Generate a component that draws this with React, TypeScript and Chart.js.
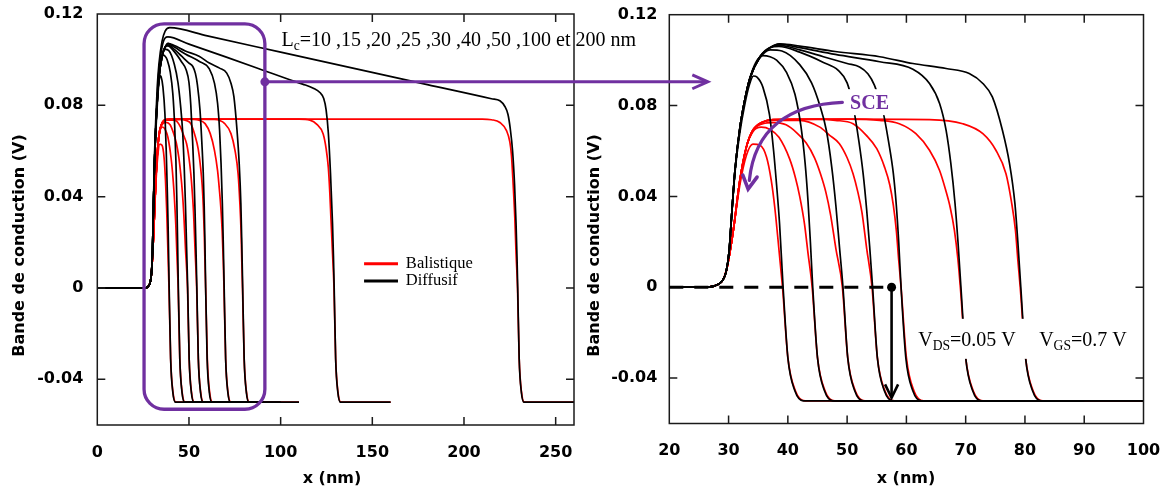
import React, { useEffect, useRef } from 'react';
import { Chart, registerables } from 'chart.js';

Chart.register(...registerables);

const W = 1167;
const H = 495;

// ---------- axes ----------
const leftXTicks = [0, 50, 100, 150, 200, 250];
const leftXLabels = ['0', '50', '100', '150', '200', '250'];
const rightXTicks = [20, 30, 40, 50, 60, 70, 80, 90, 100];
const rightXLabels = ['20', '30', '40', '50', '60', '70', '80', '90', '100'];
const yTicks = [-0.04, 0, 0.04, 0.08, 0.12];
const yLabels = ['-0.04', '0', '0.04', '0.08', '0.12'];

// ---------- channel lengths (nm) ----------
const channelLengths = [10, 15, 20, 25, 30, 40, 50, 100, 200];
const zoomedLengths = [10, 15, 20, 25, 30, 40, 50];

// ---------- Diffusif (black) : [x (nm), E (V)] ----------
const diff10 = [[0,0],[26,0],[27.5,0.0005],[29,0.003],[29.6,0.007],[30.1,0.016],[30.5,0.031],[31.1,0.051],[31.9,0.068],[32.7,0.080],[33.5,0.089],[34.2,0.093],[34.8,0.0925],[35.8,0.088],[36.9,0.076],[37.6,0.060],[38.1,0.045],[38.6,0.028],[39.2,0],[40.0,-0.031],[41.2,-0.0457],[42.6,-0.05],[70,-0.05]];
const diff15 = [[0,0],[26,0],[27.5,0.0005],[29,0.003],[29.6,0.007],[30.1,0.016],[30.5,0.031],[31.1,0.052],[31.9,0.070],[32.7,0.082],[33.6,0.092],[34.6,0.099],[35.8,0.102],[37,0.1015],[38.1,0.100],[39.8,0.0945],[41.2,0.085],[42.2,0.071],[42.9,0.055],[43.4,0.038],[43.8,0.02],[44.2,0],[45.0,-0.031],[46.2,-0.0457],[47.6,-0.05],[75,-0.05]];
const diff20 = [[0,0],[26,0],[27.5,0.0005],[29,0.003],[29.6,0.007],[30.1,0.016],[30.5,0.031],[31.1,0.052],[31.9,0.070],[32.7,0.082],[33.6,0.092],[35.3,0.101],[37,0.1045],[39,0.104],[42,0.098],[44,0.090],[45.4,0.080],[46.5,0.069],[47.4,0.053],[48.1,0.036],[48.7,0.018],[49.3,0],[50.1,-0.031],[51.3,-0.0457],[52.7,-0.05],[80,-0.05]];
const diff25 = [[0,0],[26,0],[27.5,0.0005],[29,0.003],[29.6,0.007],[30.1,0.016],[30.5,0.031],[31.1,0.052],[31.9,0.070],[32.7,0.082],[33.6,0.092],[35.3,0.1015],[37,0.1055],[38.5,0.106],[42,0.1035],[46,0.099],[48.5,0.0955],[50,0.090],[51,0.080],[52,0.064],[52.7,0.050],[53.3,0.034],[53.8,0.018],[54.3,0],[55.1,-0.031],[56.3,-0.0457],[57.7,-0.05],[85,-0.05]];
const diff30 = [[0,0],[26,0],[27.5,0.0005],[29,0.003],[29.6,0.007],[30.1,0.016],[30.5,0.031],[31.1,0.052],[31.9,0.070],[32.7,0.082],[33.6,0.092],[35.3,0.1015],[37,0.1055],[38.6,0.1065],[42,0.1045],[46,0.1015],[50,0.0985],[52.1,0.097],[53.5,0.094],[54.6,0.089],[56,0.078],[57,0.064],[57.8,0.050],[58.3,0.036],[58.7,0.02],[59.1,0],[59.9,-0.031],[61.1,-0.0457],[62.5,-0.05],[90,-0.05]];
const diff40 = [[0,0],[26,0],[27.5,0.0005],[29,0.003],[29.6,0.007],[30.1,0.016],[30.5,0.031],[31.1,0.052],[31.9,0.070],[32.7,0.082],[33.6,0.092],[35.3,0.1015],[37,0.1055],[38.6,0.107],[42,0.1055],[48,0.1025],[55.5,0.0993],[61.1,0.096],[63.9,0.0897],[65.6,0.0809],[66.7,0.0691],[67.5,0.0544],[68.2,0.037],[68.7,0.02],[69.2,0],[70.0,-0.031],[71.2,-0.0457],[72.6,-0.05],[100,-0.05]];
const diff50 = [[0,0],[26,0],[27.5,0.0005],[29,0.003],[29.6,0.007],[30.1,0.016],[30.5,0.031],[31.1,0.052],[31.9,0.070],[32.7,0.082],[33.6,0.092],[35.3,0.1015],[37,0.1055],[38.6,0.1072],[42,0.1062],[48,0.1038],[55.5,0.1015],[61.1,0.0985],[66.7,0.0963],[70.6,0.0941],[72.9,0.0897],[74.5,0.0838],[76.2,0.0691],[77.4,0.0544],[78.3,0.037],[78.8,0.02],[79.3,0],[80.1,-0.031],[81.3,-0.0457],[82.7,-0.05],[110,-0.05]];
const diff100 = [[0,0],[26,0],[27.5,0.0005],[29,0.003],[29.6,0.007],[30.1,0.016],[30.5,0.031],[31.1,0.053],[31.9,0.071],[32.7,0.084],[33.6,0.095],[35.3,0.1055],[37,0.1095],[38.5,0.110],[50,0.1068],[70,0.1012],[90,0.0955],[105,0.0912],[112,0.0893],[117.8,0.0875],[121.4,0.0856],[123.5,0.083],[124.8,0.078],[126,0.068],[127.2,0.05],[128.3,0.028],[128.8,0.014],[129.2,0],[130,-0.031],[131.2,-0.0457],[132.6,-0.05],[160,-0.05]];
const diff200 = [[0,0],[26,0],[27.5,0.0005],[29,0.003],[29.6,0.007],[30.1,0.016],[30.5,0.032],[31.1,0.055],[31.9,0.074],[32.7,0.088],[33.6,0.098],[35.3,0.108],[37,0.1125],[39.5,0.114],[60,0.1104],[100,0.1033],[140,0.0962],[180,0.0891],[215,0.0829],[219.6,0.082],[222.3,0.0795],[224,0.076],[225.2,0.070],[226.5,0.060],[227.6,0.045],[228.4,0.028],[228.9,0.014],[229.3,0],[230.1,-0.031],[231.3,-0.0457],[232.7,-0.05],[260,-0.05]];

// ---------- Balistique (red) : [x (nm), E (V)] ----------
const bal10 = [[0,0],[26,0],[27.5,0.0005],[29,0.003],[29.6,0.007],[30.2,0.015],[30.8,0.025],[31.9,0.045],[33,0.058],[34.1,0.063],[35.3,0.0625],[36.4,0.0573],[37.2,0.047],[37.8,0.035],[38.3,0.022],[38.7,0.011],[39.1,0],[40.0,-0.031],[41.3,-0.0458],[42.9,-0.05],[70,-0.05]];
const bal15 = [[0,0],[26,0],[27.5,0.0005],[29,0.003],[29.6,0.007],[30.2,0.015],[30.8,0.025],[31.9,0.047],[33,0.0617],[34.1,0.0685],[35.5,0.0705],[37,0.0695],[38.5,0.066],[40.3,0.0565],[41.3,0.048],[42,0.040],[42.8,0.028],[43.4,0.015],[44.1,0],[45.0,-0.031],[46.3,-0.0458],[47.9,-0.05],[75,-0.05]];
const bal20 = [[0,0],[26,0],[27.5,0.0005],[29,0.003],[29.6,0.007],[30.2,0.015],[30.8,0.025],[31.9,0.047],[33,0.0617],[34.1,0.0691],[35.8,0.072],[37.5,0.0725],[39.7,0.0715],[41.5,0.068],[43.1,0.0635],[44.5,0.057],[45.5,0.050],[46.4,0.042],[47.2,0.032],[48.1,0.017],[49.2,0],[50.1,-0.031],[51.4,-0.0458],[53,-0.05],[80,-0.05]];
const bal25 = [[0,0],[26,0],[27.5,0.0005],[29,0.003],[29.6,0.007],[30.2,0.015],[30.8,0.025],[31.9,0.047],[33,0.0617],[34.1,0.0691],[35.8,0.0728],[37.5,0.0735],[42,0.0735],[45.4,0.0705],[47,0.067],[48.7,0.0632],[50,0.057],[51,0.050],[51.8,0.042],[52.5,0.033],[53.3,0.017],[54.2,0],[55.1,-0.031],[56.4,-0.0458],[58,-0.05],[85,-0.05]];
const bal30 = [[0,0],[26,0],[27.5,0.0005],[29,0.003],[29.6,0.007],[30.2,0.015],[30.8,0.025],[31.9,0.047],[33,0.0617],[34.1,0.0691],[35.8,0.0728],[37.5,0.0738],[45,0.074],[48,0.0735],[51,0.072],[53.2,0.067],[55,0.061],[56.3,0.053],[57.2,0.045],[57.8,0.036],[58.3,0.025],[58.7,0.012],[59.1,0],[60,-0.031],[61.3,-0.0458],[62.9,-0.05],[90,-0.05]];
const bal40 = [[0,0],[26,0],[27.5,0.0005],[29,0.003],[29.6,0.007],[30.2,0.015],[30.8,0.025],[31.9,0.047],[33,0.0617],[34.1,0.0691],[35.8,0.0728],[37.5,0.0738],[50,0.074],[55.5,0.0735],[58.8,0.072],[61.6,0.0676],[63.9,0.0603],[65.6,0.0514],[66.6,0.043],[67.4,0.035],[68.1,0.025],[68.7,0.012],[69.1,0],[70,-0.031],[71.3,-0.0458],[72.9,-0.05],[100,-0.05]];
const bal50 = [[0,0],[26,0],[27.5,0.0005],[29,0.003],[29.6,0.007],[30.2,0.015],[30.8,0.025],[31.9,0.047],[33,0.0617],[34.1,0.0691],[35.8,0.0728],[37.5,0.0738],[50,0.074],[63.9,0.0738],[69.5,0.072],[72.9,0.0676],[75.1,0.0603],[76.8,0.050],[77.7,0.038],[78.4,0.025],[78.8,0.012],[79.2,0],[80.1,-0.031],[81.4,-0.0458],[83,-0.05],[110,-0.05]];
const bal100 = [[0,0],[26,0],[27.5,0.0005],[29,0.003],[29.6,0.007],[30.2,0.015],[30.8,0.025],[31.9,0.047],[33,0.0617],[34.1,0.0691],[35.8,0.0728],[37.5,0.0738],[50,0.074],[110,0.074],[116,0.0735],[119.6,0.0718],[123.2,0.0674],[124.8,0.061],[126,0.0528],[126.8,0.042],[127.4,0.031],[128.3,0.015],[129.1,0],[130,-0.031],[131.3,-0.0458],[132.9,-0.05],[160,-0.05]];
const bal200 = [[0,0],[26,0],[27.5,0.0005],[29,0.003],[29.6,0.007],[30.2,0.015],[30.8,0.025],[31.9,0.047],[33,0.0617],[34.1,0.0691],[35.8,0.0728],[37.5,0.0738],[50,0.074],[210,0.074],[215,0.0737],[219.6,0.0725],[223.2,0.0689],[225,0.064],[225.9,0.058],[226.8,0.0456],[227.7,0.031],[228.4,0.015],[229.2,0],[230.1,-0.031],[231.4,-0.0458],[233,-0.05],[260,-0.05]];

const diffusif = [diff10, diff15, diff20, diff25, diff30, diff40, diff50, diff100, diff200];
const balistique = [bal10, bal15, bal20, bal25, bal30, bal40, bal50, bal100, bal200];

// ---------- styling ----------
const PURPLE = '#7030A0';
const SERIF = '"Liberation Serif", "Times New Roman", serif';
const SANS = '"DejaVu Sans", sans-serif';
const TICK = 8;

function buildDatasets(lengths: number[]) {
  const mk = (arr: number[][], color: string, i: number, kind: string) => ({
    label: `${kind} Lc=${channelLengths[i]} nm`,
    data: arr.map(([x, y]) => ({ x, y })),
    borderColor: color,
    borderWidth: 1.7,
    pointRadius: 0,
    fill: false,
    cubicInterpolationMode: 'monotone' as const,
  });
  const keep = (i: number) => lengths.includes(channelLengths[i]);
  const black = diffusif.map((a, i) => (keep(i) ? mk(a, '#000000', i, 'Diffusif') : null)).filter(Boolean);
  const red = balistique.map((a, i) => (keep(i) ? mk(a, '#ff0000', i, 'Balistique') : null)).filter(Boolean);
  return [...black, ...red];
}

function drawFrame(chart: any) {
  const { ctx, chartArea: a } = chart;
  const xs = chart.scales.x;
  const ys = chart.scales.y;
  ctx.save();
  ctx.strokeStyle = '#1a1a1a';
  ctx.lineWidth = 1.5;
  ctx.strokeRect(a.left, a.top, a.right - a.left, a.bottom - a.top);
  ctx.beginPath();
  for (const t of xs.ticks) {
    const p = xs.getPixelForValue(t.value);
    if (p <= a.left + 1 || p >= a.right - 1) continue;
    ctx.moveTo(p, a.bottom); ctx.lineTo(p, a.bottom - TICK);
    ctx.moveTo(p, a.top); ctx.lineTo(p, a.top + TICK);
  }
  for (const t of ys.ticks) {
    const p = ys.getPixelForValue(t.value);
    if (p <= a.top + 1 || p >= a.bottom - 1) continue;
    ctx.moveTo(a.left, p); ctx.lineTo(a.left + TICK, p);
    ctx.moveTo(a.right, p); ctx.lineTo(a.right - TICK, p);
  }
  ctx.stroke();
  ctx.restore();
}

function drawTitles(chart: any, yTitleX: number, xTitleX: number) {
  const { ctx } = chart;
  ctx.save();
  ctx.font = `bold 16px ${SANS}`;
  ctx.fillStyle = '#000';
  ctx.textAlign = 'center';
  ctx.textBaseline = 'middle';
  ctx.fillText('x (nm)', xTitleX, 479);
  ctx.translate(yTitleX, 245.5);
  ctx.rotate(-Math.PI / 2);
  ctx.fillText('Bande de conduction (V)', 0, 0);
  ctx.restore();
}

function drawSubText(ctx: any, x: number, y: number, parts: [string, boolean][], size: number, color: string, bold = false) {
  let cx = x;
  for (const [txt, sub] of parts) {
    const s = sub ? size * 0.68 : size;
    ctx.font = `${bold ? 'bold ' : ''}${s}px ${SERIF}`;
    ctx.fillStyle = color;
    ctx.textAlign = 'left';
    ctx.textBaseline = 'alphabetic';
    ctx.fillText(txt, cx, sub ? y + size * 0.22 : y);
    cx += ctx.measureText(txt).width;
  }
  return cx - x;
}

function chevron(ctx: any, tipX: number, tipY: number, angle: number, len: number, spread: number) {
  ctx.beginPath();
  ctx.moveTo(tipX - len * Math.cos(angle - spread), tipY - len * Math.sin(angle - spread));
  ctx.lineTo(tipX, tipY);
  ctx.lineTo(tipX - len * Math.cos(angle + spread), tipY - len * Math.sin(angle + spread));
  ctx.stroke();
}

function axisOptions(min: number, max: number, ticks: number[], labels: string[], pad: number, fitFn: (s: any) => void) {
  return {
    type: 'linear' as const,
    min,
    max,
    grid: { display: false, drawTicks: false },
    border: { display: false },
    afterBuildTicks: (s: any) => { s.ticks = ticks.map((v) => ({ value: v })); },
    afterFit: (s: any) => {
      fitFn(s);
      s.paddingTop = 0;
      s.paddingBottom = 0;
      s.paddingLeft = 0;
      s.paddingRight = 0;
    },
    ticks: {
      color: '#000',
      padding: pad,
      font: { family: 'DejaVu Sans', weight: 'bold' as const, size: 16 },
      maxRotation: 0,
      autoSkip: false,
      callback: (_v: any, i: number) => labels[i],
    },
  };
}

export default function App() {
  const leftRef = useRef<HTMLCanvasElement>(null);
  const rightRef = useRef<HTMLCanvasElement>(null);

  useEffect(() => {
    const leftDeco = {
      id: 'leftDeco',
      afterDraw(chart: any) {
        drawFrame(chart);
        drawTitles(chart, 19.5, 332);
        const { ctx } = chart;
        const xs = chart.scales.x;
        const ys = chart.scales.y;
        // legend
        const x0 = xs.getPixelForValue(145.5);
        const x1 = xs.getPixelForValue(164);
        const tx = xs.getPixelForValue(168.3);
        const items: [string, string, number][] = [
          ['Balistique', '#ff0000', 0.0106],
          ['Diffusif', '#000000', 0.0031],
        ];
        ctx.save();
        for (const [name, col, yv] of items) {
          const py = ys.getPixelForValue(yv);
          ctx.strokeStyle = col;
          ctx.lineWidth = 3;
          ctx.beginPath();
          ctx.moveTo(x0, py);
          ctx.lineTo(x1, py);
          ctx.stroke();
          ctx.font = `16.5px ${SERIF}`;
          ctx.fillStyle = '#000';
          ctx.textAlign = 'left';
          ctx.textBaseline = 'alphabetic';
          ctx.fillText(name, tx, py + 4);
        }
        ctx.restore();
      },
    };

    const left = new Chart(leftRef.current as HTMLCanvasElement, {
      type: 'line',
      data: { datasets: buildDatasets(channelLengths) as any },
      options: {
        responsive: false,
        animation: false,
        devicePixelRatio: 1,
        events: [],
        layout: { padding: { left: 0, top: 14, right: W - 574, bottom: 0 } },
        plugins: { legend: { display: false }, tooltip: { enabled: false } },
        scales: {
          x: axisOptions(0, 260, leftXTicks, leftXLabels, 18, (s: any) => { s.height = H - 425; }),
          y: axisOptions(-0.06, 0.12, yTicks, yLabels, 14, (s: any) => { s.width = 97.3; }),
        } as any,
      },
      plugins: [leftDeco],
    });

    const rightDeco = {
      id: 'rightDeco',
      afterDraw(chart: any) {
        drawFrame(chart);
        drawTitles(chart, 594.5, 906);
        const { ctx } = chart;
        const xs = chart.scales.x;
        const ys = chart.scales.y;
        const lx = left.scales.x;
        const ly = left.scales.y;
        ctx.save();

        // purple rounded box on left panel
        const rx0 = lx.getPixelForValue(25.5);
        const rx1 = lx.getPixelForValue(91.4);
        const ry0 = ly.getPixelForValue(0.1157);
        const ry1 = ly.getPixelForValue(-0.0531);
        ctx.strokeStyle = PURPLE;
        ctx.lineWidth = 3.3;
        ctx.beginPath();
        ctx.roundRect(rx0, ry0, rx1 - rx0, ry1 - ry0, 20);
        ctx.stroke();

        // connector: dot + line + arrow head
        const dy = ly.getPixelForValue(0.0903);
        const tipX = xs.getPixelForValue(26.5);
        ctx.fillStyle = PURPLE;
        ctx.beginPath();
        ctx.arc(rx1, dy, 4.5, 0, Math.PI * 2);
        ctx.fill();
        ctx.lineWidth = 3;
        ctx.beginPath();
        ctx.moveTo(rx1, dy);
        ctx.lineTo(tipX - 1, dy);
        ctx.stroke();
        chevron(ctx, tipX, dy, 0, 17, 0.42);

        // Lc text
        drawSubText(ctx, lx.getPixelForValue(100.5), ly.getPixelForValue(0.106),
          [['L', false], ['c', true], ['=10 ,15 ,20 ,25 ,30 ,40 ,50 ,100 et 200 nm', false]], 20, '#000');

        // SCE label with white box
        const sx = xs.getPixelForValue(50.5);
        const sy = ys.getPixelForValue(0.0784);
        ctx.font = `bold 20px ${SERIF}`;
        const sw = ctx.measureText('SCE').width;
        ctx.fillStyle = '#fff';
        ctx.fillRect(sx - 4, sy - 20, sw + 6, 26);
        ctx.fillStyle = PURPLE;
        ctx.textAlign = 'left';
        ctx.textBaseline = 'alphabetic';
        ctx.fillText('SCE', sx, sy);

        // curved SCE arrow
        const p0 = [xs.getPixelForValue(49.2), ys.getPixelForValue(0.0814)];
        const c1 = [xs.getPixelForValue(40.3), ys.getPixelForValue(0.0805)];
        const c2 = [xs.getPixelForValue(34.4), ys.getPixelForValue(0.0700)];
        const p1 = [xs.getPixelForValue(33.5), ys.getPixelForValue(0.0470)];
        ctx.strokeStyle = PURPLE;
        ctx.lineWidth = 3.2;
        ctx.lineCap = 'round';
        ctx.beginPath();
        ctx.moveTo(p0[0], p0[1]);
        ctx.bezierCurveTo(c1[0], c1[1], c2[0], c2[1], p1[0], p1[1]);
        ctx.stroke();
        const atx = xs.getPixelForValue(33.3);
        const aty = ys.getPixelForValue(0.0432);
        const ang = Math.atan2(aty - p1[1], atx - p1[0]);
        ctx.lineWidth = 3.6;
        ctx.lineJoin = 'miter';
        chevron(ctx, atx, aty, ang, 15, 0.5);

        // dashed zero line, dot, vertical arrow
        const x20 = xs.getPixelForValue(20);
        const xd = xs.getPixelForValue(57.5);
        const y0 = ys.getPixelForValue(0);
        const yA = ys.getPixelForValue(-0.0487);
        ctx.strokeStyle = '#000';
        ctx.lineWidth = 3;
        ctx.lineCap = 'butt';
        ctx.setLineDash([14, 11]);
        ctx.beginPath();
        ctx.moveTo(x20, y0);
        ctx.lineTo(xd, y0);
        ctx.stroke();
        ctx.setLineDash([]);
        ctx.fillStyle = '#000';
        ctx.beginPath();
        ctx.arc(xd, y0, 4.5, 0, Math.PI * 2);
        ctx.fill();
        ctx.lineWidth = 2.6;
        ctx.beginPath();
        ctx.moveTo(xd, y0);
        ctx.lineTo(xd, yA - 1);
        ctx.stroke();
        chevron(ctx, xd, yA, Math.PI / 2, 15, 0.45);

        // VDS / VGS labels with white box
        const vx = xs.getPixelForValue(62.0);
        const vy = ys.getPixelForValue(-0.0258);
        const gx = xs.getPixelForValue(82.4);
        ctx.fillStyle = '#fff';
        ctx.fillRect(vx - 6, vy - 27, xs.getPixelForValue(99) - vx + 6, 40);
        drawSubText(ctx, vx, vy, [['V', false], ['DS', true], ['=0.05 V', false]], 20, '#000');
        drawSubText(ctx, gx, vy, [['V', false], ['GS', true], ['=0.7 V', false]], 20, '#000');

        ctx.restore();
      },
    };

    const right = new Chart(rightRef.current as HTMLCanvasElement, {
      type: 'line',
      data: { datasets: buildDatasets(zoomedLengths) as any },
      options: {
        responsive: false,
        animation: false,
        devicePixelRatio: 1,
        events: [],
        layout: { padding: { left: 569.3, top: 14.7, right: W - 1143.5, bottom: 0 } },
        plugins: { legend: { display: false }, tooltip: { enabled: false } },
        scales: {
          x: axisOptions(20, 100, rightXTicks, rightXLabels, 18, (s: any) => { s.height = H - 423.5; }),
          y: axisOptions(-0.06, 0.12, yTicks, yLabels, 12, (s: any) => { s.width = 100; }),
        } as any,
      },
      plugins: [rightDeco],
    });

    return () => {
      right.destroy();
      left.destroy();
    };
  }, []);

  const cs: React.CSSProperties = { position: 'absolute', left: 0, top: 0, width: W, height: H };
  return (
    <div style={{ position: 'absolute', left: 0, top: 0, width: W, height: H, background: '#fff' }}>
      <canvas ref={leftRef} width={W} height={H} style={cs} />
      <canvas ref={rightRef} width={W} height={H} style={cs} />
    </div>
  );
}
